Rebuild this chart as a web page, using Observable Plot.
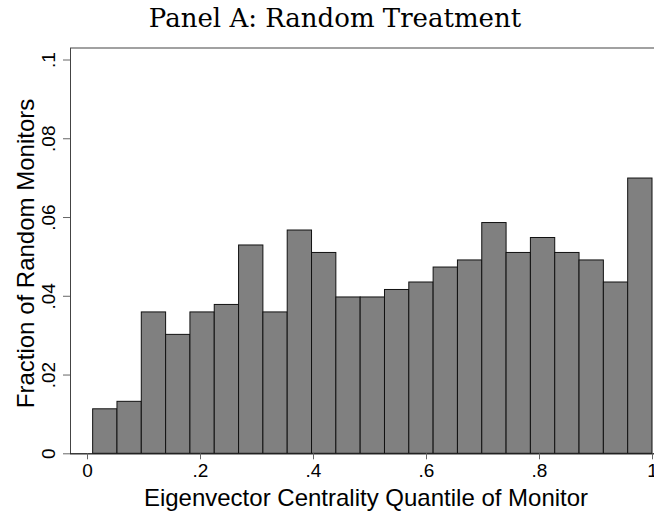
<!DOCTYPE html>
<html><head><meta charset="utf-8">
<script src="https://cdn.jsdelivr.net/npm/d3@7"></script>
<script src="https://cdn.jsdelivr.net/npm/@observablehq/plot@0.6"></script>
<style>
body{margin:0;background:#fff;}
#wrap{width:654px;height:512px;}
</style></head><body>
<div id="wrap"></div>
<script>
// Histogram bins span binLo..binHi in equal widths
const binLo = 0.01, binHi = 1.0;
const fractions = [0.0113,0.0132,0.0359,0.0302,0.0359,0.0378,0.0529,0.0359,0.0567,0.0510,0.0397,0.0397,0.0416,0.0435,0.0473,0.0491,0.0586,0.0510,0.0548,0.0510,0.0491,0.0435,0.0699];
const xTicks = [0, 0.2, 0.4, 0.6, 0.8, 1];
const xTickLabels = ["0", ".2", ".4", ".6", ".8", "1"];
const yTicks = [0, 0.02, 0.04, 0.06, 0.08, 0.1];
const yTickLabels = ["0", ".02", ".04", ".06", ".08", ".1"];
const xTitle = "Eigenvector Centrality Quantile of Monitor";
const yTitle = "Fraction of Random Monitors";
const title = "Panel A: Random Treatment";

const bw = (binHi - binLo) / fractions.length;
const bins = fractions.map((f, i) => ({x1: binLo + i * bw, x2: binLo + (i + 1) * bw, f}));

const chart = Plot.plot({
  width: 654, height: 512,
  marginLeft: 70, marginRight: -1, marginTop: 47.5, marginBottom: 58.7,
  insetLeft: 17, insetRight: 3, insetTop: 12,
  x: {domain: [0, 1], label: null},
  y: {domain: [0, 0.1], label: null},
  style: {fontFamily: "'Liberation Sans', Arial, sans-serif", background: "white", color: "#000"},
  marks: [
    Plot.frame({stroke: "#444", strokeWidth: 1}),
    Plot.rectY(bins, {x1: "x1", x2: "x2", y1: 0, y2: "f", fill: "#808080", stroke: "#111", strokeWidth: 1}),
    Plot.ruleY([0], {stroke: "#222", strokeWidth: 1}),
    Plot.axisX(xTicks, {tickSize: 6, tickFormat: () => "", stroke: "#666", label: null}),
    Plot.axisY(yTicks, {tickSize: 7, tickFormat: () => "", stroke: "#666", label: null}),
    Plot.text(xTicks, {x: d => d, text: (d, i) => xTickLabels[i], frameAnchor: "bottom", lineAnchor: "bottom", dy: 23.4, fontSize: 19, fill: "#000"}),
    Plot.text(yTicks, {y: d => d, text: (d, i) => yTickLabels[i], frameAnchor: "left", rotate: -90, textAnchor: "middle", lineAnchor: "bottom", dx: -16, fontSize: 19, fill: "#000"}),
    Plot.text([xTitle], {text: d => d, frameAnchor: "bottom", lineAnchor: "bottom", dy: 51.7, dx: 3, fontSize: 24, fill: "#000"}),
    Plot.text([yTitle], {text: d => d, frameAnchor: "left", rotate: -90, textAnchor: "middle", lineAnchor: "bottom", dx: -36.7, dy: 2.6, fontSize: 24, fill: "#000"}),
    Plot.text([title], {text: d => d, frameAnchor: "top", lineAnchor: "bottom", dy: -20.8, dx: -28, fontSize: 26, fontFamily: "DejaVu Serif", fill: "#000"})
  ]
});
document.getElementById("wrap").appendChild(chart);
</script>
</body></html>
